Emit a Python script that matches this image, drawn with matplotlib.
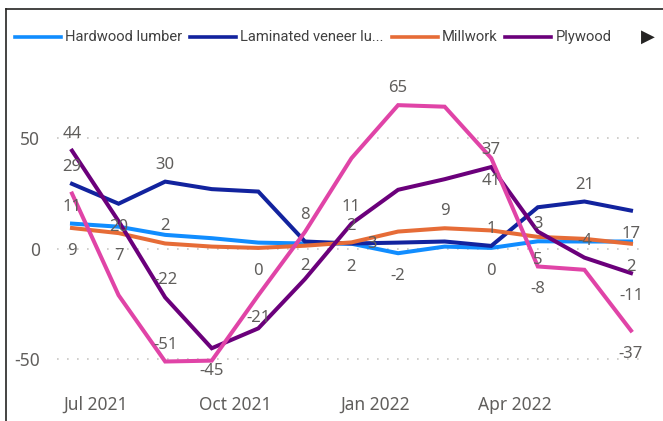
import numpy as np
import matplotlib
matplotlib.use("Agg")
import matplotlib.pyplot as plt
from matplotlib.lines import Line2D

# monthly % change, Jun 2021 .. Jun 2022 (13 points)
months = np.arange(13)
hardwood = [11.4, 10.0, 6.3, 4.8, 2.8, 2.4, 2.3, -2.0, 1.0, 0.4, 3.4, 3.3, 3.3]
lvl = [29.4, 20.4, 30.4, 27.0, 25.9, 3.3, 2.4, 2.8, 3.3, 1.3, 18.8, 21.4, 17.3]
millwork = [9.4, 7.1, 2.4, 1.0, 0.4, 1.4, 2.9, 7.8, 9.3, 8.3, 5.4, 4.5, 2.3]
plywood = [44.4, 12.5, -22.0, -45.0, -36.0, -13.7, 11.4, 26.7, 31.5, 37.0, 7.8, -4.0, -11.0]
softwood = [25.0, -21.0, -51.0, -50.6, -21.0, 7.6, 41.0, 65.0, 64.3, 41.0, -8.0, -9.5, -37.0]

series_names = ["Hardwood lumber", "Laminated veneer lu...", "Millwork", "Plywood", "Softwood lumber"]
series_vals = [hardwood, lvl, millwork, plywood, softwood]
colors = ["#118DFF", "#12239E", "#E66C37", "#6B007B", "#E044A7"]

tick_pos = [0.5, 3.5, 6.5, 9.5]
tick_labels = ["Jul 2021", "Oct 2021", "Jan 2022", "Apr 2022"]

# which points carry a data label: (series index, point index, where)
labels = [
    (0, 0, "a"), (0, 5, "b"), (0, 6, "b"), (0, 7, "b"), (0, 9, "b"), (0, 10, "a"),
    (1, 0, "a"), (1, 1, "b"), (1, 2, "a"), (1, 6, "a"), (1, 9, "a"), (1, 11, "a"), (1, 12, "b"),
    (2, 0, "b"), (2, 1, "b"), (2, 2, "a"), (2, 4, "b"), (2, 6, "r"), (2, 8, "a"), (2, 10, "b"), (2, 12, "b"),
    (3, 0, "a"), (3, 2, "a"), (3, 3, "b"), (3, 6, "a"), (3, 9, "a"), (3, 11, "a"), (3, 12, "b"),
    (4, 2, "a"), (4, 4, "b"), (4, 5, "a"), (4, 7, "a"), (4, 9, "b"), (4, 10, "b"), (4, 12, "b"),
]

W, H = 663, 421
txt = "#605E5C"
font = ["Noto Sans", "DejaVu Sans"]
plt.rcParams["font.family"] = font

fig = plt.figure(figsize=(W / 100, H / 100), dpi=100)

def fx(px):
    return px / W

def fy(py):
    return 1 - py / H

ax = fig.add_axes([fx(57), fy(385), fx(640) - fx(57), fy(90) - fy(385)])
ax.set_xlim(-15 / 46.6, 12 + 9 / 46.6)
ax.set_ylim((248.8 - 385) / 2.21, (248.8 - 90) / 2.21)

for yv in [-50, 0, 50]:
    ax.axhline(yv, color="#C8C6C4", lw=1.2, ls=(0, (1, 5)), zorder=1)

for vals, c in zip(series_vals, colors):
    ax.plot(months, vals, color=c, lw=2.9, solid_joinstyle="miter", zorder=3)

offs = {"a": (0, 17), "b": (0, -23), "r": (21, -2)}
for si, pi, where in labels:
    v = series_vals[si][pi]
    ax.annotate(f"{v:.0f}", (months[pi], v), xytext=offs[where], textcoords="offset pixels",
                ha="center", va="center", fontsize=12, color=txt, zorder=5,
                annotation_clip=False)

ax.set_yticks([-50, 0, 50])
ax.set_yticklabels(["-50", "0", "50"])
ax.set_xticks(tick_pos)
ax.set_xticklabels(tick_labels)
ax.tick_params(length=0, labelsize=12.5, labelcolor=txt)
ax.tick_params(axis="y", pad=12)
ax.tick_params(axis="x", pad=8)
for s in ax.spines.values():
    s.set_visible(False)
ax.patch.set_alpha(0)

# frame of the visual (top and left edges)
fig.add_artist(Line2D([fx(6), 1], [fy(9), fy(9)], color="#252423", lw=1.2))
fig.add_artist(Line2D([fx(6), fx(6)], [fy(9), 0], color="#252423", lw=1.2))

# legend, laid out left to right
fig.canvas.draw()
r = fig.canvas.get_renderer()
x = 15
ly = 37
for name, c in zip(series_names[:4], colors[:4]):
    fig.add_artist(Line2D([fx(x), fx(x + 46)], [fy(ly), fy(ly)], color=c, lw=2.6))
    t = fig.text(fx(x + 50), fy(ly), name, ha="left", va="center", fontsize=10.6,
                 color="#404040", family=["Roboto", "DejaVu Sans"])
    bb = t.get_window_extent(r)
    x = bb.x1 + 8
fig.text(fx(648), fy(ly), "\u25B6", ha="center", va="center", fontsize=13,
         color="#252423", family="DejaVu Sans")

fig.savefig("out.png", dpi=100)
